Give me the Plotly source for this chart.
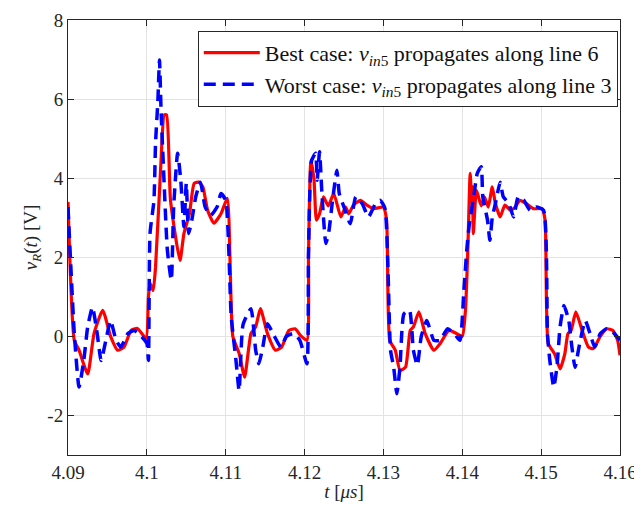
import plotly.graph_objects as go

# Best case (red, solid)
t_best = [4.0900, 4.0908, 4.0914, 4.0925, 4.0933, 4.0944, 4.0954, 4.0963, 4.0971, 4.0980,
          4.0988, 4.0999, 4.1002, 4.1004, 4.1008, 4.1011, 4.1018, 4.1022, 4.1025, 4.1030,
          4.1042, 4.1047, 4.1054, 4.1060, 4.1066, 4.1071, 4.1077, 4.1085, 4.1094, 4.1102,
          4.1109, 4.1117, 4.1124, 4.1132, 4.1138, 4.1144, 4.1153, 4.1163, 4.1171, 4.1180,
          4.1188, 4.1195, 4.1203, 4.1205, 4.1208, 4.1212, 4.1215, 4.1219, 4.1224, 4.1230,
          4.1237, 4.1246, 4.1252, 4.1256, 4.1262, 4.1271, 4.1279, 4.1288, 4.1300, 4.1304,
          4.1308, 4.1315, 4.1321, 4.1328, 4.1334, 4.1338, 4.1345, 4.1353, 4.1364, 4.1372,
          4.1383, 4.1393, 4.1400, 4.1404, 4.1407, 4.1410, 4.1412, 4.1413, 4.1414, 4.1418,
          4.1424, 4.1428, 4.1433, 4.1438, 4.1442, 4.1448, 4.1454, 4.1461, 4.1467, 4.1473,
          4.1481, 4.1490, 4.1501, 4.1505, 4.1509, 4.1517, 4.1524, 4.1530, 4.1534, 4.1538,
          4.1544, 4.1552, 4.1560, 4.1566, 4.1575, 4.1583, 4.1591, 4.1597, 4.1600]
v_best = [3.40, -0.10, -0.35, -0.95, 0.07, 0.66, 0.00, -0.35, -0.27, 0.15,
          0.20, -0.05, 1.00, 1.34, 1.16, 1.75, 4.45, 5.60, 5.60, 3.44,
          1.92, 2.60, 3.10, 3.87, 3.90, 3.78, 3.19, 2.86, 3.10, 3.49,
          0.00, -0.43, -1.03, 0.07, 0.24, 0.70, 0.07, -0.35, -0.27, 0.15,
          0.19, 0.02, -0.10, 2.09, 4.45, 3.95, 2.94, 3.10, 3.53, 3.30,
          3.61, 3.02, 3.27, 3.10, 3.32, 3.44, 3.32, 3.23, 3.27, 2.94,
          -0.10, -0.35, -0.86, -0.78, 0.15, 0.24, 0.62, 0.07, -0.35, -0.18,
          0.15, 0.07, 0.00, 0.66, 2.18, 4.12, 3.36, 3.78, 2.60, 3.69,
          3.30, 3.53, 3.27, 3.78, 3.36, 3.02, 3.32, 3.19, 3.27, 3.44,
          3.36, 3.23, 3.23, 2.94, -0.18, -0.44, -0.82, -0.44, 0.07, 0.15,
          0.62, 0.15, -0.27, -0.31, 0.00, 0.19, 0.15, -0.10, -0.48]

# Worst case (blue, dashed)
t_worst = [4.0900, 4.0908, 4.0914, 4.0920, 4.0925, 4.0931, 4.0937, 4.0942, 4.0948, 4.0954,
           4.0961, 4.0967, 4.0976, 4.0984, 4.0993, 4.1000, 4.1002, 4.1004, 4.1009, 4.1011,
           4.1014, 4.1016, 4.1018, 4.1021, 4.1026, 4.1031, 4.1034, 4.1039, 4.1043, 4.1047,
           4.1050, 4.1053, 4.1057, 4.1062, 4.1068, 4.1074, 4.1081, 4.1089, 4.1094, 4.1100,
           4.1107, 4.1113, 4.1117, 4.1122, 4.1132, 4.1138, 4.1142, 4.1147, 4.1153, 4.1160,
           4.1170, 4.1177, 4.1186, 4.1194, 4.1203, 4.1205, 4.1209, 4.1214, 4.1216, 4.1219,
           4.1222, 4.1227, 4.1231, 4.1235, 4.1241, 4.1244, 4.1250, 4.1258, 4.1265, 4.1273,
           4.1281, 4.1290, 4.1296, 4.1302, 4.1309, 4.1313, 4.1317, 4.1321, 4.1326, 4.1333,
           4.1338, 4.1343, 4.1348, 4.1355, 4.1364, 4.1372, 4.1381, 4.1390, 4.1397, 4.1402,
           4.1406, 4.1409, 4.1415, 4.1419, 4.1424, 4.1426, 4.1432, 4.1435, 4.1438, 4.1442,
           4.1448, 4.1452, 4.1459, 4.1465, 4.1471, 4.1478, 4.1486, 4.1494, 4.1503, 4.1508,
           4.1511, 4.1516, 4.1520, 4.1524, 4.1529, 4.1535, 4.1539, 4.1543, 4.1548, 4.1556,
           4.1562, 4.1568, 4.1575, 4.1583, 4.1591, 4.1600]
v_worst = [3.27, 0.07, -1.28, -0.61, 0.24, 0.74, 0.07, -0.61, -0.10, 0.40,
           -0.10, -0.27, 0.07, 0.15, 0.00, -0.18, -0.61, 2.60, 3.44, 4.88,
           5.97, 6.99, 5.72, 4.29, 2.18, 1.42, 3.27, 4.63, 3.95, 2.77,
           3.87, 2.60, 2.94, 3.53, 3.90, 3.27, 3.06, 3.27, 3.61, 3.44,
           0.50, -0.61, -1.37, 0.30, 0.70, -0.35, -0.69, -0.27, 0.32, 0.07,
           -0.27, 0.00, 0.07, -0.10, -0.69, 2.09, 4.45, 4.63, 3.95, 4.67,
           3.61, 2.35, 2.68, 3.36, 4.20, 3.61, 3.27, 2.85, 3.53, 3.36,
           3.02, 3.36, 3.44, 3.23, -0.35, -0.78, -1.45, -0.78, 0.57, 0.66,
           -0.35, -0.73, 0.00, 0.40, -0.10, -0.10, 0.19, 0.07, -0.10, 1.16,
           2.26, 2.85, 3.61, 4.12, 4.29, 3.53, 2.94, 2.43, 3.00, 3.36,
           3.90, 3.53, 3.36, 3.02, 3.53, 3.44, 3.19, 3.27, 3.19, 0.07,
           -0.61, -1.28, -0.78, 0.24, 0.78, 0.40, -0.27, -0.78, -0.27, 0.40,
           0.07, -0.27, 0.07, 0.19, 0.11, -0.10]

x_ticks = [4.09, 4.10, 4.11, 4.12, 4.13, 4.14, 4.15, 4.16]
x_tick_labels = ["4.09", "4.1", "4.11", "4.12", "4.13", "4.14", "4.15", "4.16"]
y_ticks = [-2, 0, 2, 4, 6, 8]
y_tick_labels = ["-2", "0", "2", "4", "6", "8"]

FONT = "Liberation Serif"
AX = "#262626"

fig = go.Figure()
fig.add_trace(go.Scatter(
    x=t_best, y=v_best, mode="lines",
    line=dict(color="#ff0000", width=3.2, shape="spline", smoothing=0.5),
    name="Best case: <i>v</i><sub><i>in</i>5</sub> propagates along line 6"))
fig.add_trace(go.Scatter(
    x=t_worst, y=v_worst, mode="lines",
    line=dict(color="#0000ff", width=3.5, dash="12px,7px", shape="spline", smoothing=0.5),
    name="Worst case: <i>v</i><sub><i>in</i>5</sub> propagates along line 3"))

axis_common = dict(
    showline=True, linecolor=AX, linewidth=1, mirror="ticks",
    ticks="inside", ticklen=6, tickcolor=AX, tickwidth=1,
    showgrid=True, gridcolor="#e3e3e3", gridwidth=1,
    zeroline=False, automargin=False, ticklabeloverflow="allow",
    tickfont=dict(family=FONT, size=19, color=AX),
)

# the page body adds an 8px offset, so the figure is sized to fit the window
fig.update_layout(
    width=634, height=504,
    margin=dict(l=60, r=22, t=12, b=57),
    paper_bgcolor="white", plot_bgcolor="white",
    font=dict(family=FONT, size=19, color=AX),
    xaxis=dict(range=[4.09, 4.16], tickvals=x_ticks, ticktext=x_tick_labels,
               title=dict(text="<i>t</i> [<i>μs</i>]", font=dict(family=FONT, size=19), standoff=2),
               **axis_common),
    yaxis=dict(range=[-3, 8], tickvals=y_ticks, ticktext=y_tick_labels,
               title=dict(text="<i>v</i><sub><i>R</i></sub>(<i>t</i>) [V]", font=dict(family=FONT, size=19), standoff=4),
               **axis_common),
    legend=dict(x=0.996, y=0.975, xanchor="right", yanchor="top",
                bgcolor="white", bordercolor=AX, borderwidth=1,
                font=dict(family=FONT, size=22, color="#111111"),
                itemwidth=56, tracegroupgap=0),
    showlegend=True,
)

fig.write_html("out.html")
